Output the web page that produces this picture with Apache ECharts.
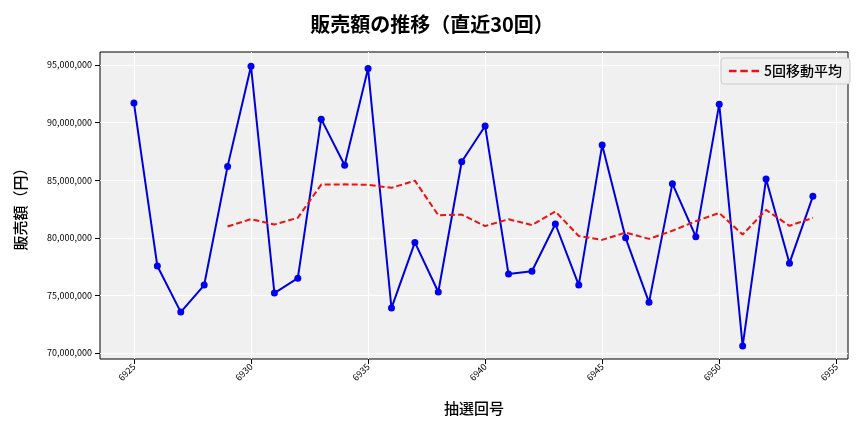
<!DOCTYPE html>
<html>
<head>
<meta charset="utf-8">
<script src="https://cdn.jsdelivr.net/npm/echarts@6/dist/echarts.min.js"></script>
<style>html,body{margin:0;padding:0;background:#fff}#chart{width:864px;height:432px}</style>
</head>
<body>
<div id="chart"></div>
<script>
const rounds = [6925,6926,6927,6928,6929,6930,6931,6932,6933,6934,6935,6936,6937,6938,6939,
  6940,6941,6942,6943,6944,6945,6946,6947,6948,6949,6950,6951,6952,6953,6954];
const sales = [91.7,77.55,73.55,75.9,86.2,94.9,75.2,76.5,90.3,86.3,94.7,73.9,79.6,75.3,86.6,
  89.7,76.85,77.1,81.2,75.9,88.05,80.0,74.4,84.7,80.1,91.6,70.6,85.1,77.8,83.6];
const movingAvg = [null,null,null,null,80.98,81.62,81.15,81.74,84.62,84.64,84.6,84.34,84.96,81.96,82.02,
  81.02,81.61,81.11,82.29,80.15,79.82,80.45,79.91,80.61,81.45,82.16,80.28,82.42,81.04,81.74];
const xTicks = [6925,6930,6935,6940,6945,6950,6955];
const yTicks = [70,75,80,85,90,95].map(v => v * 1e6);

const font = '"Noto Sans CJK JP", sans-serif';
const chart = echarts.init(document.getElementById('chart'));
chart.setOption({
  animation: false,
  textStyle: { fontFamily: font },
  title: {
    text: '販売額の推移（直近30回）', left: 'center', top: 9,
    textStyle: { fontFamily: font, fontSize: 20, fontWeight: 'bold', color: '#000' }
  },
  legend: {
    right: 14, top: 58, orient: 'vertical',
    data: [{ name: '5回移動平均', icon: 'path://M0,0h6v2h-6z M9,0h6v2h-6z M18,0h6v2h-6z' }],
    itemWidth: 30, itemHeight: 3,
    backgroundColor: '#f0f0f0', borderColor: '#ccc', borderWidth: 1, borderRadius: 3, padding: [6, 8],
    textStyle: { fontFamily: font, fontSize: 14, fontWeight: 500, color: '#000' }
  },
  grid: {
    left: 100, right: 16, top: 52, bottom: 73,
    show: true, backgroundColor: '#f0f0f0', borderColor: '#000', borderWidth: 1
  },
  xAxis: {
    type: 'value', min: 6923.55, max: 6955.5,
    name: '抽選回号', nameLocation: 'middle', nameGap: 42,
    nameTextStyle: { fontFamily: font, fontSize: 15, fontWeight: 500, color: '#000' },
    axisLine: { show: false },
    axisTick: { show: true, customValues: xTicks, lineStyle: { color: '#000' } },
    axisLabel: { customValues: xTicks, rotate: 45, fontSize: 9, color: '#000', margin: 6,
      formatter: v => String(v) },
    splitLine: { show: true, lineStyle: { color: '#fff', width: 1 } }
  },
  yAxis: {
    type: 'value', min: 69.48e6, max: 96.13e6,
    name: '販売額（円）', nameLocation: 'middle', nameGap: 72,
    nameTextStyle: { fontFamily: font, fontSize: 15, fontWeight: 500, color: '#000' },
    axisLine: { show: false },
    axisTick: { show: true, customValues: yTicks, lineStyle: { color: '#000' } },
    axisLabel: { customValues: yTicks, fontSize: 9, color: '#000',
      formatter: v => Math.round(v).toLocaleString('en-US') },
    splitLine: { show: true, lineStyle: { color: '#fff', width: 1 } }
  },
  series: [
    {
      name: '販売額', type: 'line',
      data: rounds.map((r, i) => [r, sales[i] * 1e6]),
      symbol: 'circle', symbolSize: 7,
      lineStyle: { color: '#0000dd', width: 2 },
      itemStyle: { color: '#0000ee' }
    },
    {
      name: '5回移動平均', type: 'line',
      data: rounds.map((r, i) => [r, movingAvg[i] == null ? null : movingAvg[i] * 1e6]),
      showSymbol: false, symbol: 'none',
      lineStyle: { color: '#ee1111', width: 2, type: [6, 3] },
      itemStyle: { color: '#ee1111' }
    }
  ]
});
</script>
</body>
</html>
